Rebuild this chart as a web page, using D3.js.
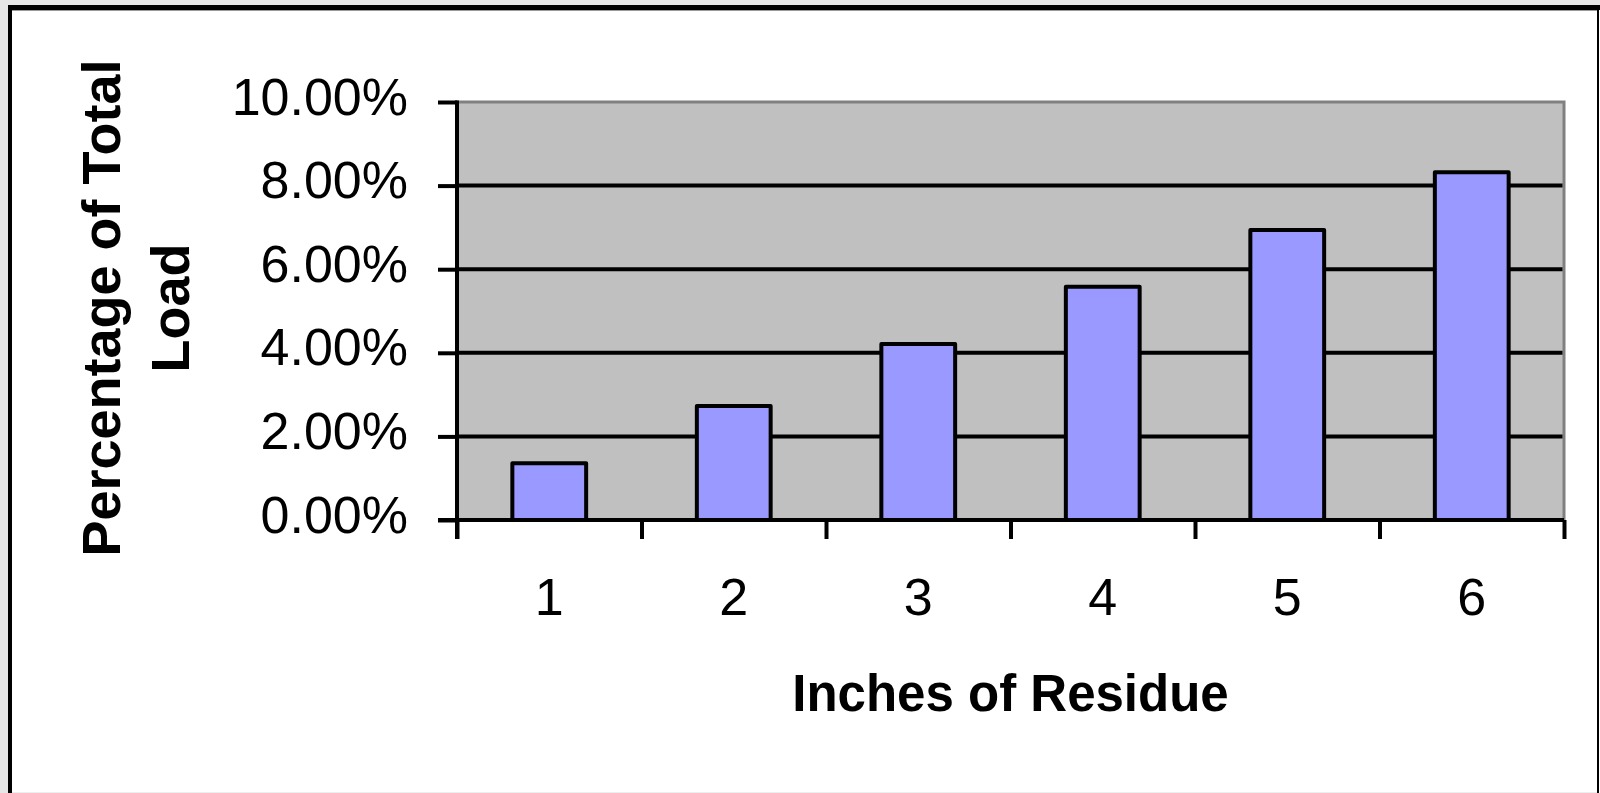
<!DOCTYPE html>
<html>
<head>
<meta charset="utf-8">
<script src="https://cdn.jsdelivr.net/npm/d3@7"></script>
<style>
  html, body { margin: 0; padding: 0; background: #e6e6e6; }
  svg { display: block; }
  text { font-family: "Liberation Sans", Arial, sans-serif; fill: #000; }
</style>
</head>
<body>
<svg id="chart" width="1600" height="793"></svg>
<script>
const categories = ["1", "2", "3", "4", "5", "6"];
const values = [0.0136, 0.0273, 0.0421, 0.0558, 0.0694, 0.0832];
const yTicks = [0, 0.02, 0.04, 0.06, 0.08, 0.10];
const yTitleLines = ["Percentage of Total", "Load"];
const xTitle = "Inches of Residue";

const svg = d3.select("#chart");
const W = 1600, H = 793;
const SW = 4;

// outer chart box
svg.append("rect").attr("x", 0).attr("y", 0).attr("width", W).attr("height", H).attr("fill", "#e6e6e6");
svg.append("rect").attr("x", 8).attr("y", 5).attr("width", W - 8).attr("height", H - 5).attr("fill", "#ffffff");
svg.append("rect").attr("x", 8).attr("y", 5).attr("width", W - 8).attr("height", 5).attr("fill", "#000");
svg.append("rect").attr("x", 8).attr("y", 5).attr("width", 4).attr("height", H - 5).attr("fill", "#000");
svg.append("rect").attr("x", 1597).attr("y", 5).attr("width", 2).attr("height", H - 5).attr("fill", "#000");
svg.append("line").attr("x1", 12).attr("x2", 1597).attr("y1", 10.5).attr("y2", 10.5).attr("stroke", "#999").attr("stroke-width", 1);
svg.append("line").attr("x1", 12).attr("x2", 1597).attr("y1", 792.5).attr("y2", 792.5).attr("stroke", "#eeeeee").attr("stroke-width", 1);

const L = 457, R = 1564, T = 102, B = 520;

const y = d3.scaleLinear().domain([0, 0.10]).range([B, T]);
const x = d3.scaleBand().domain(categories).range([L, R]).paddingInner(0.6).paddingOuter(0.3);
const xEdge = d3.scaleLinear().domain([0, categories.length]).range([L, R]);

// plot area
svg.append("rect").attr("x", L).attr("y", T).attr("width", R - L).attr("height", B - T)
  .attr("fill", "#c0c0c0").attr("stroke", "#808080").attr("stroke-width", 3);

// gridlines
svg.append("g").selectAll("line").data(yTicks.filter(d => d > 0 && d < 0.10)).join("line")
  .attr("x1", L).attr("x2", R - 1.5).attr("y1", d => y(d)).attr("y2", d => y(d))
  .attr("stroke", "#000").attr("stroke-width", SW);

// bars
svg.append("g").selectAll("rect").data(values).join("rect")
  .attr("x", (d, i) => x(categories[i]))
  .attr("y", d => y(d))
  .attr("width", x.bandwidth())
  .attr("height", d => y(0) - y(d))
  .attr("fill", "#9999ff")
  .attr("stroke", "#000")
  .attr("stroke-width", SW)
  .attr("stroke-linejoin", "round");

// y axis
const yAxis = svg.append("g").attr("transform", `translate(${L},0)`)
  .call(d3.axisLeft(y).tickValues(yTicks).tickSize(19).tickPadding(30)
    .tickFormat(d => (d * 100).toFixed(2) + "%"));
yAxis.select(".domain").remove();
yAxis.selectAll(".tick line").attr("stroke", "#000").attr("stroke-width", SW);
yAxis.selectAll(".tick text").attr("dy", 12).attr("font-size", 52)
  .style("font-family", '"Liberation Sans", Arial, sans-serif');

// x axis edge ticks
const xTickAxis = svg.append("g").attr("transform", `translate(0,${B})`)
  .call(d3.axisBottom(xEdge).tickValues(d3.range(categories.length + 1)).tickSize(19).tickFormat(""));
xTickAxis.select(".domain").remove();
xTickAxis.selectAll(".tick line").attr("stroke", "#000").attr("stroke-width", SW);

// x labels
const xLab = svg.append("g").attr("transform", `translate(0,${B})`)
  .call(d3.axisBottom(x).tickSize(0).tickPadding(0));
xLab.select(".domain").remove();
xLab.selectAll(".tick text").attr("y", 95).attr("dy", 0).attr("font-size", 52)
  .style("font-family", '"Liberation Sans", Arial, sans-serif');

// axis lines
svg.append("line").attr("x1", L).attr("x2", L).attr("y1", T - 1.5).attr("y2", B + 19)
  .attr("stroke", "#000").attr("stroke-width", SW);
svg.append("line").attr("x1", L - 19).attr("x2", R).attr("y1", B).attr("y2", B)
  .attr("stroke", "#000").attr("stroke-width", SW);

// x title
svg.append("text").attr("x", (L + R) / 2).attr("y", 711).attr("text-anchor", "middle")
  .attr("font-size", 51).attr("font-weight", "bold").text(xTitle);

// y title
const yt = svg.append("text").attr("transform", `translate(120,308) rotate(-90)`)
  .attr("text-anchor", "middle").attr("font-size", 54).attr("font-weight", "bold");
yTitleLines.forEach((t, i) => {
  yt.append("tspan").attr("x", 0).attr("y", i * 69).text(t);
});
</script>
</body>
</html>
